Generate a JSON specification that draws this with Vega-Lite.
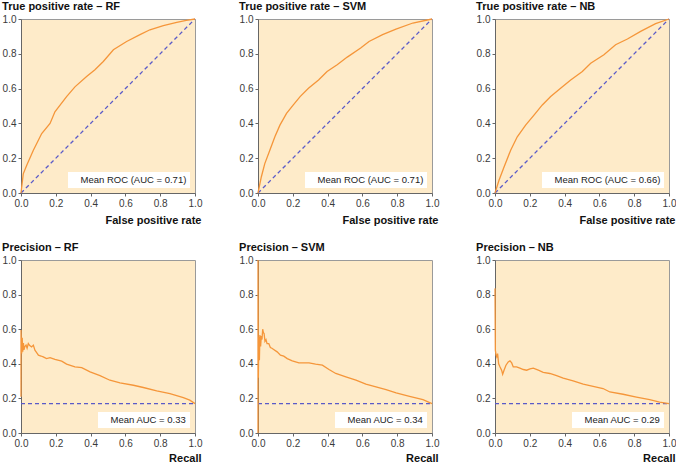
{
  "$schema": "https://vega.github.io/schema/vega-lite/v6.json",
  "background": "white",
  "padding": {"left": 1, "top": 0, "right": 2, "bottom": 0},
  "config": {
    "font": "Liberation Sans",
    "view": {"stroke": "#9a9a9a", "fill": "#FEEBC9", "strokeWidth": 1},
    "axis": {
      "labelFont": "Liberation Sans", "labelFontSize": 10, "labelColor": "#3a3a3a",
      "tickSize": 3, "tickColor": "#666", "domainColor": "#666", "labelPadding": 2,
      "grid": false, "labelFlush": false, "labelOverlap": false,
      "titleFont": "Liberation Sans", "titleFontSize": 11, "titleFontWeight": "bold", "titleColor": "#111",
      "titleAnchor": "end", "titlePadding": 6
    },
    "axisX": {"titleX": 180, "titleAlign": "right"},
    "title": {"anchor": "start", "frame": "bounds", "font": "Liberation Sans", "fontSize": 11, "fontWeight": "bold", "color": "#111", "offset": 2},
    "legend": {"orient": "bottom-right", "offset": 5, "fillColor": "white", "padding": 3, "labelFont": "Liberation Sans", "labelFontSize": 9.5, "labelColor": "#222", "symbolSize": 0, "symbolOpacity": 0, "symbolStrokeWidth": 0, "labelOffset": 0}
  },
  "datasets": {
    "diag": [{"x": 0, "y": 0}, {"x": 1, "y": 1}],
    "base": [{"x": 0, "y": 0.17}, {"x": 1, "y": 0.17}],
    "roc_rf": [{"x":0,"y":0},{"x":0.013,"y":0.11},{"x":0.033,"y":0.16},{"x":0.071,"y":0.246},{"x":0.119,"y":0.342},{"x":0.167,"y":0.40},{"x":0.195,"y":0.467},{"x":0.262,"y":0.554},{"x":0.31,"y":0.61},{"x":0.377,"y":0.669},{"x":0.425,"y":0.708},{"x":0.473,"y":0.756},{"x":0.531,"y":0.823},{"x":0.607,"y":0.871},{"x":0.684,"y":0.91},{"x":0.741,"y":0.938},{"x":0.818,"y":0.962},{"x":0.895,"y":0.981},{"x":0.95,"y":0.992},{"x":1,"y":1}],
    "roc_svm": [{"x":0,"y":0},{"x":0.019,"y":0.092},{"x":0.039,"y":0.169},{"x":0.068,"y":0.246},{"x":0.097,"y":0.323},{"x":0.126,"y":0.39},{"x":0.164,"y":0.458},{"x":0.203,"y":0.506},{"x":0.242,"y":0.554},{"x":0.29,"y":0.602},{"x":0.348,"y":0.65},{"x":0.397,"y":0.698},{"x":0.455,"y":0.737},{"x":0.513,"y":0.781},{"x":0.59,"y":0.833},{"x":0.638,"y":0.871},{"x":0.716,"y":0.91},{"x":0.793,"y":0.942},{"x":0.89,"y":0.977},{"x":1,"y":1}],
    "roc_nb": [{"x":0,"y":0},{"x":0.023,"y":0.073},{"x":0.052,"y":0.15},{"x":0.09,"y":0.246},{"x":0.128,"y":0.323},{"x":0.176,"y":0.39},{"x":0.224,"y":0.448},{"x":0.272,"y":0.506},{"x":0.32,"y":0.554},{"x":0.377,"y":0.602},{"x":0.435,"y":0.65},{"x":0.502,"y":0.698},{"x":0.55,"y":0.746},{"x":0.626,"y":0.794},{"x":0.693,"y":0.852},{"x":0.761,"y":0.885},{"x":0.837,"y":0.929},{"x":0.923,"y":0.973},{"x":1,"y":1}],
    "pr_rf": [{"x":0,"y":0.21},{"x":0,"y":0.595},{"x":0.004,"y":0.46},{"x":0.007,"y":0.55},{"x":0.01,"y":0.47},{"x":0.014,"y":0.52},{"x":0.017,"y":0.48},{"x":0.022,"y":0.5},{"x":0.029,"y":0.508},{"x":0.035,"y":0.49},{"x":0.042,"y":0.517},{"x":0.05,"y":0.505},{"x":0.061,"y":0.498},{"x":0.071,"y":0.508},{"x":0.08,"y":0.479},{"x":0.09,"y":0.465},{"x":0.1,"y":0.45},{"x":0.115,"y":0.445},{"x":0.128,"y":0.44},{"x":0.147,"y":0.43},{"x":0.167,"y":0.436},{"x":0.195,"y":0.425},{"x":0.234,"y":0.415},{"x":0.262,"y":0.398},{"x":0.31,"y":0.382},{"x":0.349,"y":0.378},{"x":0.397,"y":0.353},{"x":0.454,"y":0.332},{"x":0.511,"y":0.305},{"x":0.569,"y":0.29},{"x":0.646,"y":0.276},{"x":0.703,"y":0.263},{"x":0.78,"y":0.243},{"x":0.856,"y":0.228},{"x":0.933,"y":0.205},{"x":0.97,"y":0.19},{"x":1,"y":0.17}],
    "pr_svm": [{"x":0,"y":0},{"x":0,"y":1},{"x":0.002,"y":0.32},{"x":0.005,"y":0.556},{"x":0.008,"y":0.42},{"x":0.011,"y":0.566},{"x":0.015,"y":0.5},{"x":0.019,"y":0.56},{"x":0.023,"y":0.54},{"x":0.027,"y":0.6},{"x":0.031,"y":0.58},{"x":0.035,"y":0.575},{"x":0.04,"y":0.53},{"x":0.046,"y":0.54},{"x":0.052,"y":0.517},{"x":0.062,"y":0.517},{"x":0.071,"y":0.494},{"x":0.08,"y":0.49},{"x":0.09,"y":0.483},{"x":0.11,"y":0.469},{"x":0.129,"y":0.45},{"x":0.148,"y":0.444},{"x":0.168,"y":0.43},{"x":0.197,"y":0.417},{"x":0.235,"y":0.405},{"x":0.293,"y":0.405},{"x":0.331,"y":0.398},{"x":0.37,"y":0.392},{"x":0.408,"y":0.367},{"x":0.447,"y":0.344},{"x":0.505,"y":0.324},{"x":0.563,"y":0.305},{"x":0.62,"y":0.282},{"x":0.678,"y":0.266},{"x":0.736,"y":0.251},{"x":0.794,"y":0.232},{"x":0.871,"y":0.212},{"x":0.948,"y":0.193},{"x":1,"y":0.17}],
    "pr_nb": [{"x":0,"y":0.836},{"x":0.002,"y":0.479},{"x":0.006,"y":0.45},{"x":0.01,"y":0.44},{"x":0.015,"y":0.459},{"x":0.021,"y":0.40},{"x":0.029,"y":0.382},{"x":0.038,"y":0.363},{"x":0.044,"y":0.34},{"x":0.052,"y":0.363},{"x":0.063,"y":0.392},{"x":0.076,"y":0.411},{"x":0.086,"y":0.417},{"x":0.096,"y":0.405},{"x":0.105,"y":0.382},{"x":0.124,"y":0.382},{"x":0.143,"y":0.375},{"x":0.163,"y":0.367},{"x":0.182,"y":0.363},{"x":0.201,"y":0.371},{"x":0.22,"y":0.375},{"x":0.249,"y":0.363},{"x":0.277,"y":0.351},{"x":0.315,"y":0.344},{"x":0.354,"y":0.332},{"x":0.392,"y":0.317},{"x":0.449,"y":0.301},{"x":0.507,"y":0.282},{"x":0.564,"y":0.27},{"x":0.621,"y":0.257},{"x":0.66,"y":0.237},{"x":0.736,"y":0.224},{"x":0.813,"y":0.208},{"x":0.889,"y":0.193},{"x":0.946,"y":0.178},{"x":1,"y":0.17}]
  },
  "columns": 3,
  "spacing": {"row": 67, "column": 63},
  "bounds": "flush",
  "resolve": {"scale": {"stroke": "independent"}, "legend": {"stroke": "independent"}},
  "concat": [
    {
      "title": "True positive rate – RF", "width": 174, "height": 174,
      "encoding": {
        "x": {"field": "x", "type": "quantitative", "scale": {"domain": [0, 1], "nice": false}, "axis": {"title": "False positive rate", "values": [0, 0.2, 0.4, 0.6, 0.8, 1], "format": ".1f"}},
        "y": {"field": "y", "type": "quantitative", "scale": {"domain": [0, 1], "nice": false}, "axis": {"title": null, "values": [0, 0.2, 0.4, 0.6, 0.8, 1], "format": ".1f"}}
      },
      "layer": [
        {"data": {"name": "diag"}, "mark": {"type": "line", "color": "#5a5ac8", "strokeDash": [4, 3], "strokeWidth": 1.3}},
        {"data": {"name": "roc_rf"}, "mark": {"type": "line", "strokeWidth": 1.3}, "encoding": {"stroke": {"datum": "Mean ROC (AUC = 0.71)", "type": "nominal", "scale": {"range": ["#F5963A"]}, "legend": {"title": null}}, "order": {"value": null}}}
      ]
    },
    {
      "title": "True positive rate – SVM", "width": 174, "height": 174,
      "encoding": {
        "x": {"field": "x", "type": "quantitative", "scale": {"domain": [0, 1], "nice": false}, "axis": {"title": "False positive rate", "values": [0, 0.2, 0.4, 0.6, 0.8, 1], "format": ".1f"}},
        "y": {"field": "y", "type": "quantitative", "scale": {"domain": [0, 1], "nice": false}, "axis": {"title": null, "values": [0, 0.2, 0.4, 0.6, 0.8, 1], "format": ".1f"}}
      },
      "layer": [
        {"data": {"name": "diag"}, "mark": {"type": "line", "color": "#5a5ac8", "strokeDash": [4, 3], "strokeWidth": 1.3}},
        {"data": {"name": "roc_svm"}, "mark": {"type": "line", "strokeWidth": 1.3}, "encoding": {"stroke": {"datum": "Mean ROC (AUC = 0.71)", "type": "nominal", "scale": {"range": ["#F5963A"]}, "legend": {"title": null}}, "order": {"value": null}}}
      ]
    },
    {
      "title": "True positive rate – NB", "width": 174, "height": 174,
      "encoding": {
        "x": {"field": "x", "type": "quantitative", "scale": {"domain": [0, 1], "nice": false}, "axis": {"title": "False positive rate", "values": [0, 0.2, 0.4, 0.6, 0.8, 1], "format": ".1f"}},
        "y": {"field": "y", "type": "quantitative", "scale": {"domain": [0, 1], "nice": false}, "axis": {"title": null, "values": [0, 0.2, 0.4, 0.6, 0.8, 1], "format": ".1f"}}
      },
      "layer": [
        {"data": {"name": "diag"}, "mark": {"type": "line", "color": "#5a5ac8", "strokeDash": [4, 3], "strokeWidth": 1.3}},
        {"data": {"name": "roc_nb"}, "mark": {"type": "line", "strokeWidth": 1.3}, "encoding": {"stroke": {"datum": "Mean ROC (AUC = 0.66)", "type": "nominal", "scale": {"range": ["#F5963A"]}, "legend": {"title": null}}, "order": {"value": null}}}
      ]
    },
    {
      "title": "Precision – RF", "width": 174, "height": 173,
      "encoding": {
        "x": {"field": "x", "type": "quantitative", "scale": {"domain": [0, 1], "nice": false}, "axis": {"title": "Recall", "values": [0, 0.2, 0.4, 0.6, 0.8, 1], "format": ".1f", "titlePadding": 4}},
        "y": {"field": "y", "type": "quantitative", "scale": {"domain": [0, 1], "nice": false}, "axis": {"title": null, "values": [0, 0.2, 0.4, 0.6, 0.8, 1], "format": ".1f"}}
      },
      "layer": [
        {"data": {"name": "base"}, "mark": {"type": "line", "color": "#5a5ac8", "strokeDash": [4, 3], "strokeWidth": 1.3}},
        {"data": {"name": "pr_rf"}, "mark": {"type": "line", "strokeWidth": 1.3}, "encoding": {"stroke": {"datum": "Mean AUC = 0.33", "type": "nominal", "scale": {"range": ["#F5963A"]}, "legend": {"title": null}}, "order": {"value": null}}}
      ]
    },
    {
      "title": "Precision – SVM", "width": 174, "height": 173,
      "encoding": {
        "x": {"field": "x", "type": "quantitative", "scale": {"domain": [0, 1], "nice": false}, "axis": {"title": "Recall", "values": [0, 0.2, 0.4, 0.6, 0.8, 1], "format": ".1f", "titlePadding": 4}},
        "y": {"field": "y", "type": "quantitative", "scale": {"domain": [0, 1], "nice": false}, "axis": {"title": null, "values": [0, 0.2, 0.4, 0.6, 0.8, 1], "format": ".1f"}}
      },
      "layer": [
        {"data": {"name": "base"}, "mark": {"type": "line", "color": "#5a5ac8", "strokeDash": [4, 3], "strokeWidth": 1.3}},
        {"data": {"name": "pr_svm"}, "mark": {"type": "line", "strokeWidth": 1.3}, "encoding": {"stroke": {"datum": "Mean AUC = 0.34", "type": "nominal", "scale": {"range": ["#F5963A"]}, "legend": {"title": null}}, "order": {"value": null}}}
      ]
    },
    {
      "title": "Precision – NB", "width": 174, "height": 173,
      "encoding": {
        "x": {"field": "x", "type": "quantitative", "scale": {"domain": [0, 1], "nice": false}, "axis": {"title": "Recall", "values": [0, 0.2, 0.4, 0.6, 0.8, 1], "format": ".1f", "titlePadding": 4}},
        "y": {"field": "y", "type": "quantitative", "scale": {"domain": [0, 1], "nice": false}, "axis": {"title": null, "values": [0, 0.2, 0.4, 0.6, 0.8, 1], "format": ".1f"}}
      },
      "layer": [
        {"data": {"name": "base"}, "mark": {"type": "line", "color": "#5a5ac8", "strokeDash": [4, 3], "strokeWidth": 1.3}},
        {"data": {"name": "pr_nb"}, "mark": {"type": "line", "strokeWidth": 1.3}, "encoding": {"stroke": {"datum": "Mean AUC = 0.29", "type": "nominal", "scale": {"range": ["#F5963A"]}, "legend": {"title": null}}, "order": {"value": null}}}
      ]
    }
  ]
}
